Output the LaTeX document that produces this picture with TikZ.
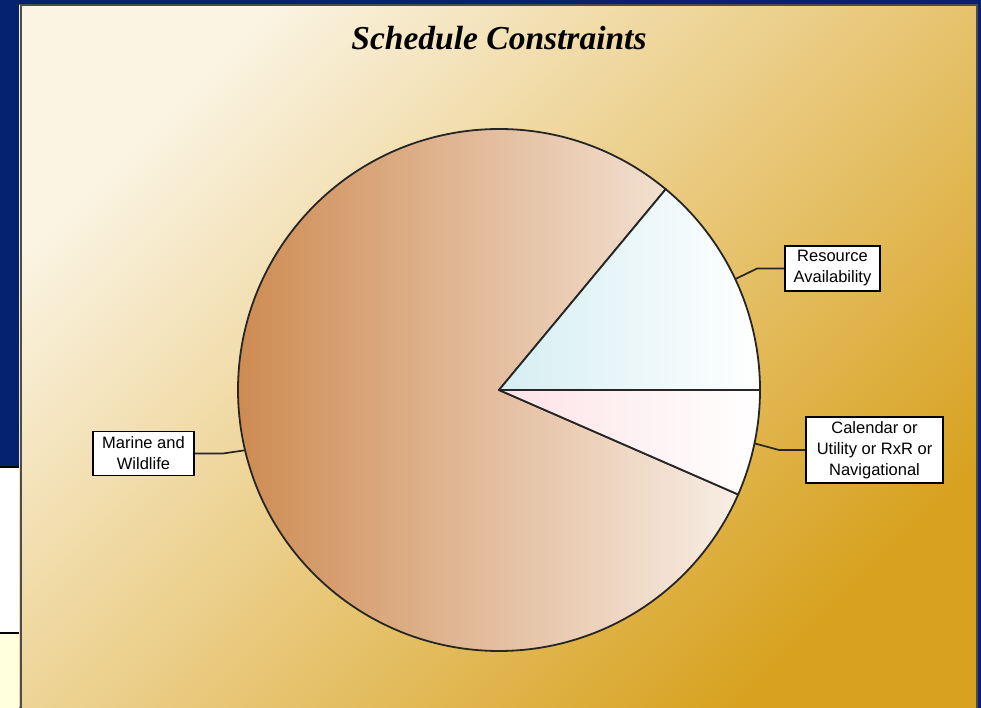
\documentclass[tikz,border=0pt]{standalone}
\usepackage{fontspec}
\setmainfont{Liberation Serif}
\newfontfamily\labelfont{Liberation Sans}
\usetikzlibrary{positioning}
\definecolor{slideblue}{HTML}{04226F}
\definecolor{panelcream}{HTML}{FBF4E3}
\definecolor{panelmid}{HTML}{EDD38F}
\definecolor{panelgold}{HTML}{D8A220}
\definecolor{marineleft}{HTML}{CB8549}
\definecolor{marineright}{HTML}{F8EEE6}
\definecolor{resleft}{HTML}{D5EEF2}
\definecolor{calleft}{HTML}{FDE2E6}
\definecolor{notecream}{HTML}{FFFFDD}

\begin{document}
\begin{tikzpicture}[
  x=1pt, y=1pt,
  slice/.style={draw=black!85, line width=1.8pt, line join=round},
  tag/.style={draw, fill=white, line width=1.8pt, align=center, inner sep=0pt,
    font=\labelfont\fontsize{16.5}{21}\selectfont},
  leader/.style={draw=black!85, line width=1.7pt}
]
\useasboundingbox (0,0) rectangle (981,-708);

% slide behind the chart
\fill[slideblue] (0,0) rectangle (981,-708);
\fill[white] (0,-467) rectangle (19,-633);
\fill[notecream] (0,-633) rectangle (19,-708);
\draw[line width=2pt] (0,-467) -- (19,-467);
\draw[line width=2pt] (0,-633) -- (19,-633);

% chart panel
\shade[top color=panelcream, middle color=panelmid, bottom color=panelgold, shading angle=45]
  (19.5,-4.5) rectangle (977.5,-712);
\draw[black!70, line width=2pt] (20.5,-712) -- (20.5,-5.5) -- (977,-5.5) -- (977,-712);

\node[font=\bfseries\itshape\fontsize{33.5}{38}\selectfont] (title) at (499,-38) {Schedule Constraints};

% pie
\coordinate (c) at (499,-390);
\shade[slice, left color=marineleft, right color=marineright]
  (c) -- ++(50.3:261) arc[start angle=50.3, end angle=336.4, radius=261] -- cycle;
\shade[slice, left color=resleft, right color=white]
  (c) -- ++(0:261) arc[start angle=0, end angle=50.3, radius=261] -- cycle;
\shade[slice, left color=calleft, right color=white]
  (c) -- ++(-23.6:261) arc[start angle=-23.6, end angle=0, radius=261] -- cycle;

\path (c) ++(25.15:261) coordinate (resedge);
\path (c) ++(-11.8:261) coordinate (caledge);
\path (c) ++(193.35:261) coordinate (maredge);

\node[tag, minimum width=95, minimum height=45] (res) at (832.5,-268.5) {Resource\\Availability};
\node[tag, minimum width=137, minimum height=66] (cal) at (874.5,-450) {Calendar or\\Utility or RxR or\\Navigational};
\node[tag, minimum width=101, minimum height=44] (mar) at (143.5,-453.5) {Marine and\\Wildlife};

\draw[leader] (resedge) -- ([xshift=-27]res.west) -- (res.west);
\draw[leader] (caledge) -- ([xshift=-26]cal.west) -- (cal.west);
\draw[leader] (maredge) -- ([xshift=28]mar.east) -- (mar.east);
\end{tikzpicture}
\end{document}
